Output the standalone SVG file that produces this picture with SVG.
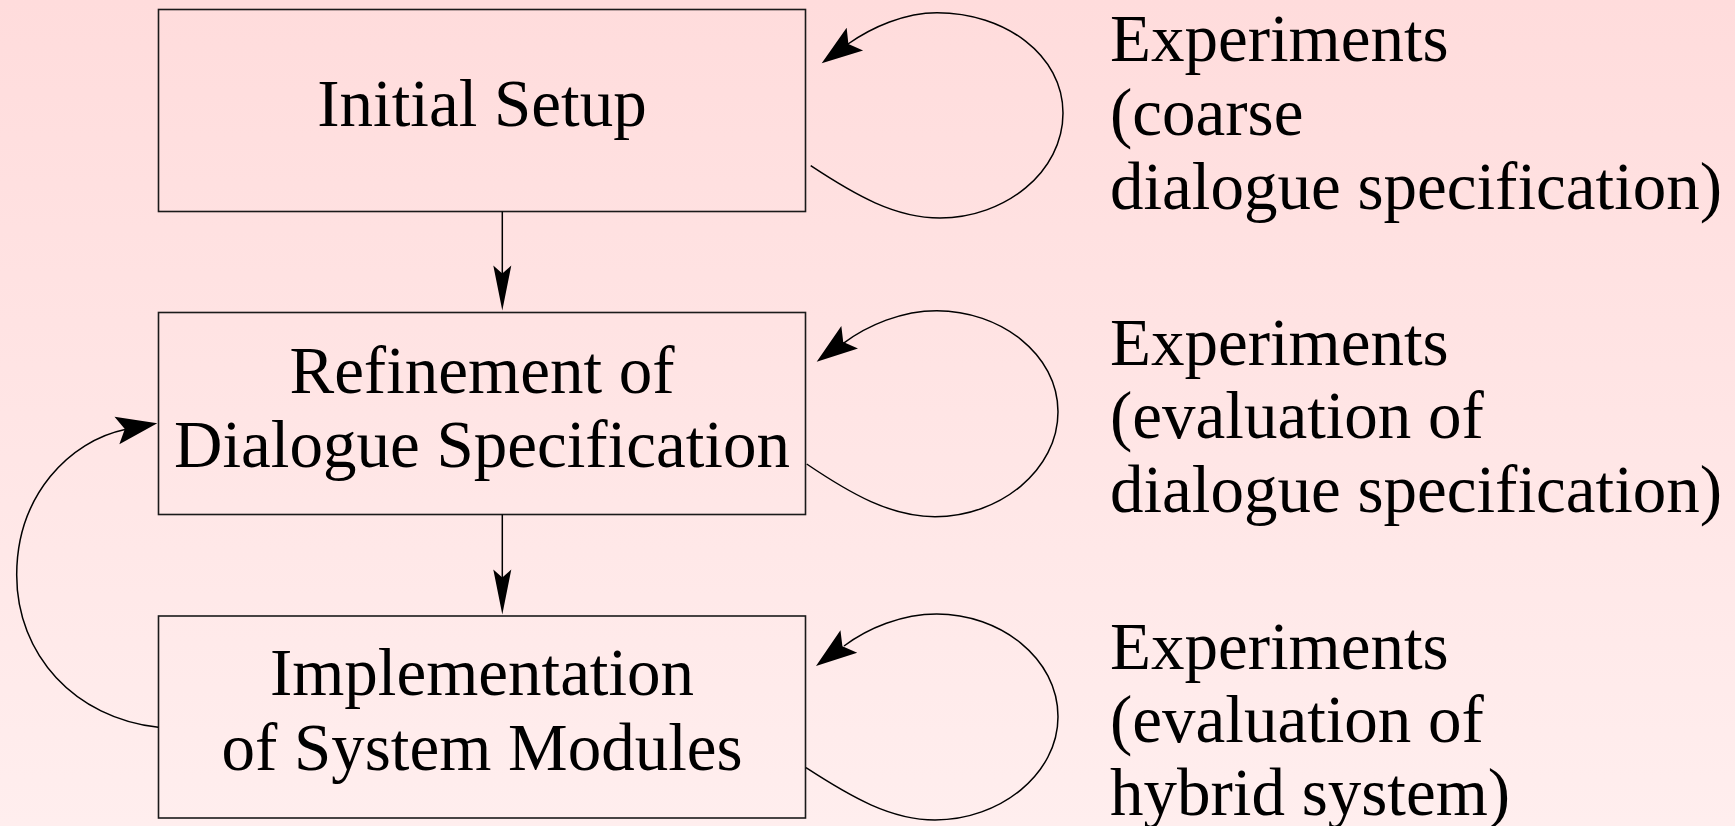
<svg xmlns="http://www.w3.org/2000/svg" width="1735" height="826" viewBox="0 0 1735 826">
<defs>
<linearGradient id="bg" x1="0" y1="0" x2="0" y2="1">
<stop offset="0" stop-color="#FFDCDC"/>
<stop offset="1" stop-color="#FFEEEE"/>
</linearGradient>
<path id="headWide" d="M0,0 L-41,-14 L-33,0 L-41,14 Z"/>
<path id="headNarrow" d="M0,0 L-45,-9 L-37,0 L-45,9 Z"/>
</defs>
<style>
.box{fill:none;stroke:#1a1a1a;stroke-width:1.6}
.lbl{font-family:"Liberation Serif","Times New Roman",serif;font-size:67px;fill:#000}
.mid{text-anchor:middle}
.edge{fill:none;stroke:#000;stroke-width:1.5}
.head{fill:#000;stroke:none}
</style>
<rect x="0" y="0" width="1735" height="826" fill="url(#bg)"/>

<g id="node-initial-setup">
<rect class="box" x="158.5" y="9.5" width="647" height="202"/>
<text class="lbl mid" x="482" y="126">Initial Setup</text>
</g>

<g id="node-refinement">
<rect class="box" x="158.5" y="312.5" width="647" height="202"/>
<text class="lbl mid" x="482" y="392.5">Refinement of</text>
<text class="lbl mid" x="482" y="466.5">Dialogue Specification</text>
</g>

<g id="node-implementation">
<rect class="box" x="158.5" y="616" width="647" height="202"/>
<text class="lbl mid" x="482" y="695">Implementation</text>
<text class="lbl mid" x="482" y="770">of System Modules</text>
</g>

<g id="note-1">
<text class="lbl" x="1110" y="61">Experiments</text>
<text class="lbl" x="1110" y="135">(coarse</text>
<text class="lbl" x="1110" y="208.5">dialogue specification)</text>
</g>
<g id="note-2">
<text class="lbl" x="1110" y="364.5">Experiments</text>
<text class="lbl" x="1110" y="438">(evaluation of</text>
<text class="lbl" x="1110" y="511.5">dialogue specification)</text>
</g>
<g id="note-3">
<text class="lbl" x="1110" y="668.5">Experiments</text>
<text class="lbl" x="1110" y="742">(evaluation of</text>
<text class="lbl" x="1110" y="815">hybrid system)</text>
</g>

<g id="connectors">
<line class="edge" x1="502.3" y1="211.5" x2="502.3" y2="275"/>
<use href="#headNarrow" class="head" transform="translate(502.3,310.5) rotate(90)"/>
<line class="edge" x1="502.3" y1="514.5" x2="502.3" y2="578"/>
<use href="#headNarrow" class="head" transform="translate(502.3,614.5) rotate(90)"/>

<path class="edge" d="M810.7,165.7 C855,195 895,218 940,218 C1005,218 1063,172 1063,113 C1063,55 1005,12.7 937,12.7 C905,12.7 872,27 848,44"/>
<use href="#headWide" class="head" transform="translate(821.7,63.3) rotate(144)"/>

<path class="edge" d="M806.7,464 C851,494 891,516.7 935,516.7 C1000,516.7 1058,470 1058,411.7 C1058,354 1000,310.7 936.7,310.7 C902,310.7 868,325 843.3,343.3"/>
<use href="#headWide" class="head" transform="translate(816.7,361.7) rotate(143.5)"/>

<path class="edge" d="M806,767.7 C851,797 891,820 935,820 C1000,820 1058,774 1058,716.7 C1058,658 1000,614 936.7,614 C902,614 868,628 844,646"/>
<use href="#headWide" class="head" transform="translate(816,666) rotate(143.2)"/>

<path class="edge" d="M158.3,727.3 C75,718 16.7,655 16.7,575 C16.7,495 70,441 125,429.5"/>
<use href="#headWide" class="head" transform="translate(157.3,423.3) rotate(-10)"/>
</g>
</svg>
